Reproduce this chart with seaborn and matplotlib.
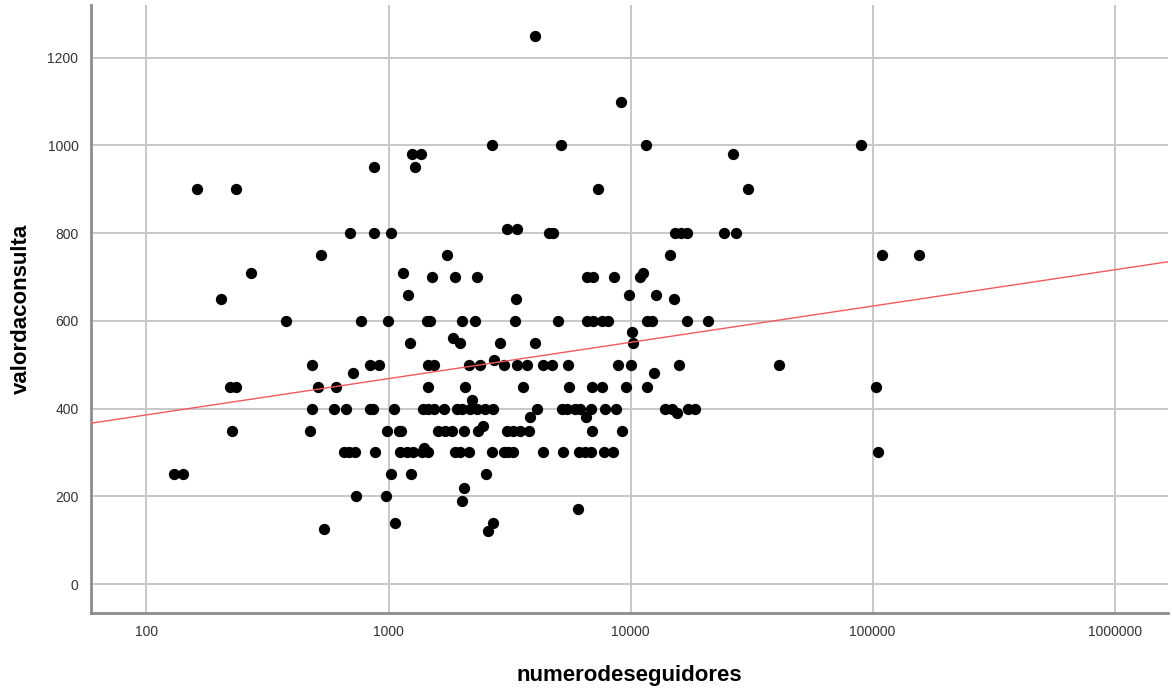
import numpy as np
import pandas as pd
import matplotlib
matplotlib.use("Agg")
import matplotlib.pyplot as plt
import seaborn as sns
from matplotlib.ticker import FixedLocator, FixedFormatter, NullLocator

numerodeseguidores = [
    162, 234, 271, 204, 376, 484, 835, 912, 713, 222, 235, 509, 604, 481, 593, 669,
    835, 866, 226, 475, 985, 652, 684, 724, 879, 130, 142, 731, 972, 540, 766, 996,
    1051, 1104, 1026, 1059, 526, 695, 875, 1023, 875,
    4030, 9120, 2680, 5165, 11590, 89100, 1256, 1365, 26370, 1285, 7360, 30550,
    3080, 3390, 4600, 4790, 15240, 16140, 17090, 24260, 27210, 1740, 14550, 109400,
    156000, 1151, 1510, 1880, 2323, 6620, 6980, 8530, 10940, 11300, 1205, 3365,
    9880, 12710, 15100,
    1440, 1490, 2010, 2280, 3335, 5000, 6590, 7020, 7600, 8100, 11640, 12210, 17140,
    20800, 10160, 10260,
    1230, 1845, 1965, 2897, 4030,
    2736, 1462, 1534, 2140, 2390, 2986, 3390, 3725, 4335, 4723, 5530, 8895, 10010,
    15890, 41100, 12500,
    1449, 2060, 3606, 5585, 6905, 7600, 9570, 11720, 103700, 2213,
    1393, 1462, 1534, 1703, 1916, 2010, 2172, 2316, 2507, 2712, 4090, 5200, 5460,
    5890, 6180, 6840, 7840, 8710, 13870, 14790, 17310, 18440, 15600, 3845, 6550,
    1127, 1607, 1714, 1827, 2042, 2350, 2445, 3085, 3280, 3500, 3787, 6905, 9190,
    1403, 1117, 1190, 1268, 1374, 1462, 1884, 1976, 2158, 2671, 2986, 3130, 3280,
    4335, 5275, 6140, 6485, 6845, 7770, 8485, 105200,
    1237, 2523, 2042, 2010, 6080, 2712, 2588,
]
valordaconsulta = [
    900, 900, 710, 650, 600, 500, 500, 500, 480, 450, 450, 450, 450, 400, 400, 400,
    400, 400, 350, 350, 350, 300, 300, 300, 300, 250, 250, 200, 200, 125, 600, 600,
    400, 350, 250, 140, 750, 800, 800, 800, 950,
    1250, 1100, 1000, 1000, 1000, 1000, 980, 980, 980, 950, 900, 900,
    810, 810, 800, 800, 800, 800, 800, 800, 800, 750, 750, 750,
    750, 710, 700, 700, 700, 700, 700, 700, 700, 710, 660, 650,
    660, 660, 650,
    600, 600, 600, 600, 600, 600, 600, 600, 600, 600, 600, 600, 600,
    600, 575, 550,
    550, 560, 550, 550, 550,
    510, 500, 500, 500, 500, 500, 500, 500, 500, 500, 500, 500, 500,
    500, 500, 480,
    450, 450, 450, 450, 450, 450, 450, 450, 450, 420,
    400, 400, 400, 400, 400, 400, 400, 400, 400, 400, 400, 400, 400,
    400, 400, 400, 400, 400, 400, 400, 400, 400, 390, 380, 380,
    350, 350, 350, 350, 350, 350, 360, 350, 350, 350, 350, 350, 350,
    310, 300, 300, 300, 300, 300, 300, 300, 300, 300, 300, 300, 300,
    300, 300, 300, 300, 300, 300, 300, 300,
    250, 250, 220, 190, 170, 140, 120,
]

x_ticks = [100, 1000, 10000, 100000, 1000000]
x_tick_labels = ["100", "1000", "10000", "100000", "1000000"]
y_ticks = [0, 200, 400, 600, 800, 1000, 1200]
y_tick_labels = ["0", "200", "400", "600", "800", "1000", "1200"]

df = pd.DataFrame({"numerodeseguidores": numerodeseguidores,
                   "valordaconsulta": valordaconsulta})

sns.set_theme(style="white")
plt.rcParams["font.family"] = ["Liberation Sans", "DejaVu Sans"]

fig = plt.figure(figsize=(11.72, 6.90), dpi=100)
ax = fig.add_axes([91 / 1172, 1 - 613 / 690, (1168 - 91) / 1172, (613 - 5) / 690])

ax.set_xscale("log")
ax.set_xlim(59, 1.66e6)
ax.set_ylim(-66, 1320)

ax.xaxis.set_major_locator(FixedLocator(x_ticks))
ax.xaxis.set_major_formatter(FixedFormatter(x_tick_labels))
ax.xaxis.set_minor_locator(NullLocator())
ax.yaxis.set_major_locator(FixedLocator(y_ticks))
ax.yaxis.set_major_formatter(FixedFormatter(y_tick_labels))

ax.grid(True, which="major", color="#c8c8c8", linewidth=1.4, zorder=0)
ax.set_axisbelow(True)

sns.scatterplot(data=df, x="numerodeseguidores", y="valordaconsulta", ax=ax,
                color="black", s=66, linewidth=0, zorder=3)
sns.regplot(data=df, x="numerodeseguidores", y="valordaconsulta", ax=ax,
            logx=True, ci=None, scatter=False, truncate=False,
            line_kws={"color": "#f25a5a", "linewidth": 1.0, "zorder": 4})

ax.set_xlim(59, 1.66e6)
ax.set_ylim(-66, 1320)

for side in ["top", "right"]:
    ax.spines[side].set_visible(False)
for side in ["left", "bottom"]:
    ax.spines[side].set_color("#8c8c8c")
    ax.spines[side].set_linewidth(2.0)

ax.tick_params(axis="both", length=0, labelsize=10, colors="#333333")
ax.tick_params(axis="y", pad=9)
ax.tick_params(axis="x", pad=9)

ax.set_xlabel("numerodeseguidores", fontsize=16, fontweight="bold", color="black", labelpad=18)
ax.set_ylabel("valordaconsulta", fontsize=16, fontweight="bold", color="black", labelpad=11)

fig.savefig("out.png", dpi=100)
